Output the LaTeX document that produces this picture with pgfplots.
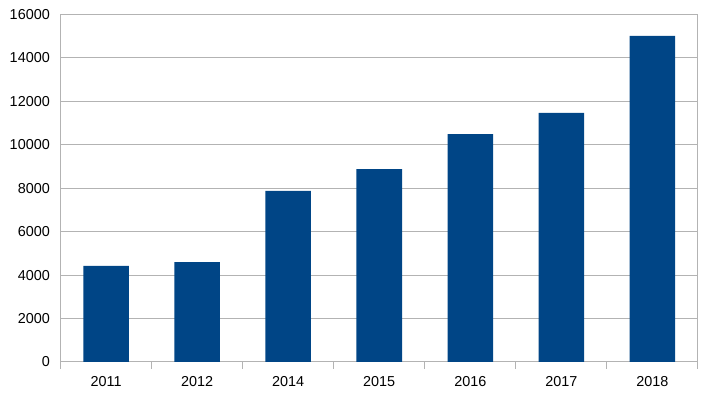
\documentclass[border=0pt]{standalone}
\usepackage{pgfplots}
\pgfplotsset{compat=1.18}
\usepackage{fontspec}
\setmainfont{Liberation Sans}
\definecolor{barblue}{HTML}{004586}
\definecolor{gridgray}{HTML}{B3B3B3}
\begin{document}
\begin{tikzpicture}
\useasboundingbox (0pt,0pt) rectangle (537pt,301.5pt);
\begin{axis}[
  at={(45.375pt,30pt)}, anchor=south west,
  scale only axis,
  width=478.1pt, height=260.8pt,
  ymin=0, ymax=16000,
  ytick={0,2000,...,16000},
  xmin=-0.5, xmax=6.5,
  xtick={0,...,6},
  xticklabels={2011,2012,2014,2015,2016,2017,2018},
  minor xtick={-0.5,0.5,...,6.5},
  major tick length=0pt,
  minor tick length=5pt,
  tick align=outside,
  xtick pos=bottom, ytick pos=left,
  xtick style={draw=none},
  minor x tick style={draw=gridgray, line width=0.75pt},
  ytick style={draw=none},
  ymajorgrids,
  grid style={gridgray, line width=0.75pt},
  axis line style={gridgray, line width=0.75pt},
  /pgf/number format/assume math mode=true,
  /pgf/number format/1000 sep={},
  tick label style={font=\fontsize{10.8}{13}\selectfont, text=black},
  yticklabel style={anchor=east, xshift=-4.5pt},
  xticklabel style={yshift=-7.5pt},
  scaled y ticks=false,
]
\addplot[ybar, bar width=0.5, fill=barblue, draw=none] coordinates {
  (0,4420) (1,4600) (2,7870) (3,8880) (4,10490) (5,11460) (6,15000)
};
\end{axis}
\end{tikzpicture}
\end{document}
